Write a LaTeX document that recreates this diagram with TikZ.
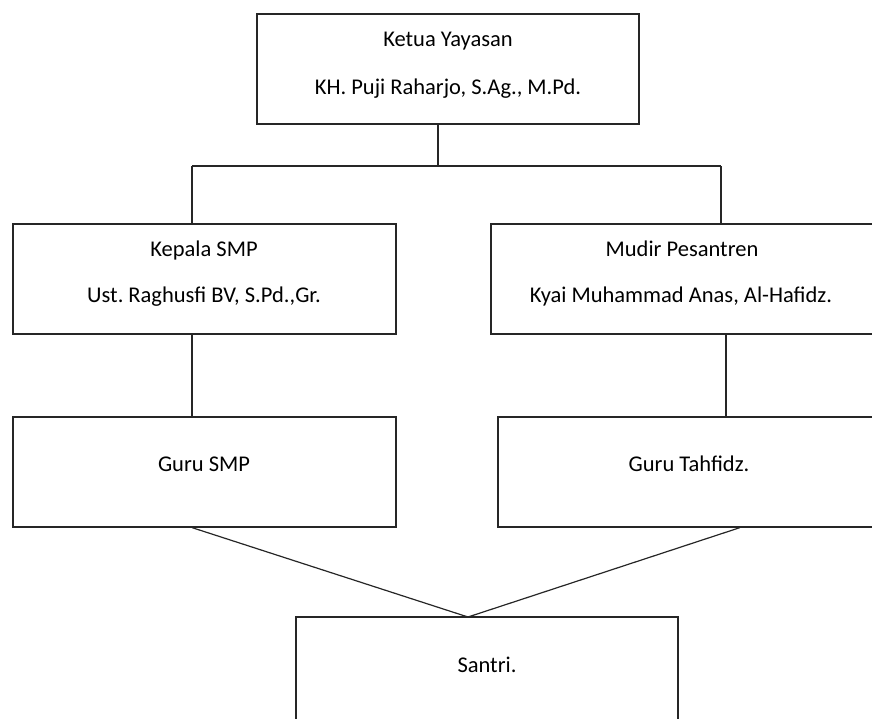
\documentclass[tikz,border=0pt]{standalone}
\usepackage{fontspec}
\setmainfont{Carlito}
\frenchspacing
\begin{document}
\begin{tikzpicture}[x=1pt,y=-1pt,
  box/.style={draw=black!85, line width=1.2pt, rectangle, inner sep=0pt},
  lbl/.style={anchor=base, inner sep=0pt, font=\fontsize{22.5}{26}\selectfont},
  conn/.style={draw=black!85, line width=1.2pt}]
\useasboundingbox (0,0) rectangle (872,718);
% boxes
\node[box, minimum width=382pt, minimum height=110pt] (top) at (448,69) {};
\node[box, minimum width=383pt, minimum height=110pt] (kep) at (204.5,279) {};
\node[box, minimum width=384pt, minimum height=110pt] (mud) at (683,279) {};
\node[box, minimum width=383pt, minimum height=110pt] (gsmp) at (204.5,472) {};
\node[box, minimum width=378pt, minimum height=110pt] (gt) at (687,472) {};
\node[box, minimum width=382pt, minimum height=120pt] (san) at (487,677) {};
% texts
\node[lbl] (t1) at (448,46) {Ketua Yayasan};
\node[lbl] (t2) at (448,94) {KH. Puji Raharjo, S.Ag., M.Pd.};
\node[lbl] (t3) at (204,256) {Kepala SMP};
\node[lbl] (t4) at (204,302) {Ust. Raghusfi BV, S.Pd.,Gr.};
\node[lbl] (t5) at (682,256) {Mudir Pesantren};
\node[lbl] (t6) at (681,302) {Kyai Muhammad Anas, Al-Hafidz.};
\node[lbl] (t7) at (204,471) {Guru SMP};
\node[lbl] (t8) at (689,471) {Guru Tahfidz.};
\node[lbl] (t9) at (487,672) {Santri.};
% junction coordinates
\coordinate (j) at (438,166);
\coordinate (jl) at (192,166);
\coordinate (jr) at (721,166);
\coordinate (vr) at (726,400);
\coordinate (gr) at (740,400);
\coordinate (meet) at (468,617);
% connectors
\draw[conn] (j |- top.south) -- (j);
\draw[conn] (jl) -- (jr);
\draw[conn] (jl) -- (jl |- kep.north);
\draw[conn] (jr) -- (jr |- mud.north);
\draw[conn] (jl |- kep.south) -- (jl |- gsmp.north);
\draw[conn] (vr |- mud.south) -- (vr |- gt.north);
\draw[conn] (jl |- gsmp.south) -- (meet) -- (gr |- gt.south);
\end{tikzpicture}
\end{document}
